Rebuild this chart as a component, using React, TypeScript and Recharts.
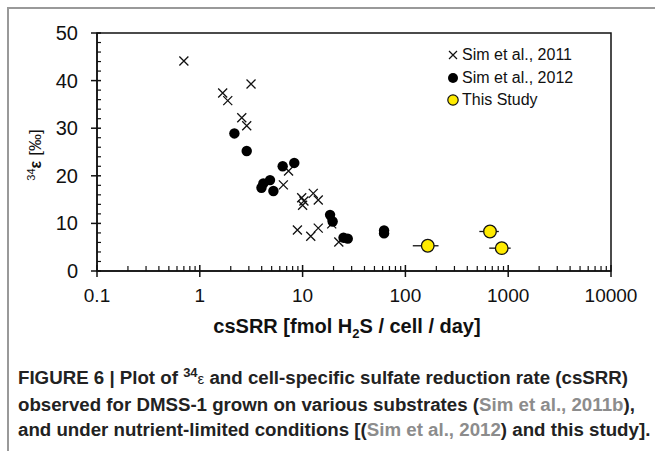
import { ScatterChart, Scatter, XAxis, YAxis, ReferenceArea, ErrorBar, Label, Legend } from 'recharts';

document.body.style.margin = '0';

const FONT = '"Liberation Sans", Arial, Helvetica, sans-serif';
const INK = '#111';

// csSRR [fmol H2S / cell / day] vs 34ε [‰]
const SIM2011_RATE = [0.7, 1.67, 1.87, 2.56, 2.86, 3.15, 6.5, 7.3, 8.9, 9.8, 10.0, 10.3, 12.0, 12.7, 14.2, 14.2, 19.2, 22.5];
const SIM2011_EPS = [44.1, 37.4, 35.8, 32.2, 30.5, 39.3, 18.1, 21.0, 8.6, 15.4, 13.8, 14.7, 7.3, 16.3, 14.9, 9.0, 9.9, 6.1];

const SIM2012_RATE = [2.17, 2.86, 3.98, 4.15, 4.82, 5.2, 6.4, 8.3, 18.5, 19.6, 25, 27.5, 62, 62];
const SIM2012_EPS = [28.9, 25.2, 17.5, 18.4, 19.1, 16.8, 22.0, 22.7, 11.8, 10.4, 7.0, 6.8, 7.9, 8.5];

const STUDY_RATE = [165, 665, 865];
const STUDY_EPS = [5.3, 8.3, 4.8];
const STUDY_ERR_LOW = [47, 141, 211];
const STUDY_ERR_HIGH = [45, 145, 192];

const LEGEND_NAMES = ['Sim et al., 2011', 'Sim et al., 2012', 'This Study'];

// ticks: decades get a label, the 2..9 in between only a short mark
const X_MAJOR = [0.1, 1, 10, 100, 1000, 10000];
const X_TICKS = X_MAJOR.flatMap((d, i) =>
  i === X_MAJOR.length - 1 ? [d] : [1, 2, 3, 4, 5, 6, 7, 8, 9].map((k) => d * k)
);
const Y_MAJOR = [0, 10, 20, 30, 40, 50];
const Y_TICKS = [0, 2, 4, 6, 8, 10, 12, 14, 16, 18, 20, 22, 24, 26, 28, 30, 32, 34, 36, 38, 40, 42, 44, 46, 48, 50];

const sim2011 = SIM2011_RATE.map((x, i) => ({ x, y: SIM2011_EPS[i] }));
const sim2012 = SIM2012_RATE.map((x, i) => ({ x, y: SIM2012_EPS[i] }));
const study = STUDY_RATE.map((x, i) => ({ x, y: STUDY_EPS[i], err: [STUDY_ERR_LOW[i], STUDY_ERR_HIGH[i]] }));

function XTick({ x, y, payload }: any) {
  if (!X_MAJOR.includes(payload.value)) {
    return <line x1={x} x2={x} y1={y} y2={y - 5} stroke={INK} strokeWidth={1.2} />;
  }
  return (
    <g>
      <line x1={x} x2={x} y1={y - 6} y2={y + 6} stroke={INK} strokeWidth={1.5} />
      <text x={x} y={y + 31} textAnchor="middle" fontSize={19} fill={INK} fontFamily={FONT}>
        {payload.value}
      </text>
    </g>
  );
}

function YTick({ x, y, payload }: any) {
  if (!Y_MAJOR.includes(payload.value)) {
    return <line x1={x} x2={x + 4} y1={y} y2={y} stroke={INK} strokeWidth={1.2} />;
  }
  return (
    <g>
      <line x1={x - 6} x2={x + 4} y1={y} y2={y} stroke={INK} strokeWidth={1.5} />
      <text x={x - 19} y={y + 7} textAnchor="end" fontSize={20} fill={INK} fontFamily={FONT}>
        {payload.value}
      </text>
    </g>
  );
}

function XTitle({ viewBox }: any) {
  const cx = viewBox.x + viewBox.width / 2 - 7;
  return (
    <text x={cx} y={viewBox.y + 62} textAnchor="middle" fontSize={20} fontWeight="bold" fill={INK} fontFamily={FONT}>
      csSRR [fmol H<tspan fontSize={13} dy={5}>2</tspan>
      <tspan dy={-5}>S / cell / day]</tspan>
    </text>
  );
}

function YTitle({ viewBox }: any) {
  const cy = viewBox.y + viewBox.height / 2 + 3;
  return (
    <text x={41} y={cy} transform={`rotate(-90 41 ${cy})`} textAnchor="middle" fontSize={16} fill={INK} fontFamily={FONT}>
      <tspan fontSize={11} dy={-6}>34</tspan>
      <tspan fontWeight="bold" fontSize={16} dy={6}>ε</tspan>
      <tspan dx={5} fontSize={17}>[‰]</tspan>
    </text>
  );
}

const Cross = ({ cx, cy }: any) => (
  <path
    d={`M${cx - 4.5},${cy - 4.5}L${cx + 4.5},${cy + 4.5}M${cx - 4.5},${cy + 4.5}L${cx + 4.5},${cy - 4.5}`}
    stroke={INK}
    strokeWidth={1.3}
    fill="none"
  />
);
const Dot = ({ cx, cy }: any) => <circle cx={cx} cy={cy} r={5.2} fill="#000" />;
const YellowDot = ({ cx, cy }: any) => (
  <circle cx={cx} cy={cy} r={6.3} fill="#FFEB00" stroke={INK} strokeWidth={1.3} />
);

function LegendBox() {
  const icons = [
    <path key="x" d="M3,3L11,11M3,11L11,3" stroke={INK} strokeWidth={1.2} />,
    <circle key="d" cx={7} cy={7} r={5} fill="#000" />,
    <circle key="y" cx={7} cy={7} r={5.2} fill="#FFEB00" stroke={INK} strokeWidth={1.2} />,
  ];
  return (
    <div style={{ fontFamily: FONT, fontSize: 16, color: INK, lineHeight: '22.5px' }}>
      {LEGEND_NAMES.map((name, i) => (
        <div key={name} style={{ display: 'flex', alignItems: 'center', whiteSpace: 'nowrap' }}>
          <svg width={14} height={14} style={{ marginRight: 2 }}>
            {icons[i]}
          </svg>
          <span>{name}</span>
        </div>
      ))}
    </div>
  );
}

const link = { color: '#8c8c8c' };

export default function App() {
  return (
    <div style={{ position: 'relative', width: 655, height: 451, overflow: 'hidden', background: '#fff' }}>
      <div
        style={{
          position: 'absolute',
          left: 7,
          top: 7,
          width: 700,
          height: 500,
          borderLeft: '2px solid #999',
          borderTop: '2px solid #999',
        }}
      />
      <div style={{ position: 'absolute', left: 0, top: 0 }}>
        <ScatterChart width={655} height={345} margin={{ top: 33, right: 44, bottom: 0, left: 0 }}>
          <XAxis
            type="number"
            dataKey="x"
            scale="log"
            domain={[0.1, 10000]}
            ticks={X_TICKS}
            interval={0}
            tickSize={0}
            tickMargin={0}
            tickLine={false}
            tick={<XTick />}
            axisLine={{ stroke: INK, strokeWidth: 1.5 }}
            height={74}
          >
            <Label content={<XTitle />} />
          </XAxis>
          <YAxis
            type="number"
            dataKey="y"
            domain={[0, 50]}
            ticks={Y_TICKS}
            interval={0}
            tickSize={0}
            tickMargin={0}
            tickLine={false}
            tick={<YTick />}
            axisLine={{ stroke: INK, strokeWidth: 1.5 }}
            width={97}
          >
            <Label content={<YTitle />} />
          </YAxis>
          <ReferenceArea x1={0.1} x2={10000} y1={0} y2={50} fill="none" stroke={INK} strokeWidth={1.5} />
          <Scatter name={LEGEND_NAMES[0]} data={sim2011} shape={<Cross />} isAnimationActive={false} />
          <Scatter name={LEGEND_NAMES[1]} data={sim2012} shape={<Dot />} isAnimationActive={false} />
          <Scatter name={LEGEND_NAMES[2]} data={study} shape={<YellowDot />} isAnimationActive={false}>
            <ErrorBar dataKey="err" direction="x" width={0} stroke={INK} strokeWidth={1.3} />
          </Scatter>
          <Legend
            layout="horizontal"
            verticalAlign="middle"
            align="center"
            width={200}
            wrapperStyle={{ left: 446, top: 44 }}
            content={<LegendBox />}
          />
        </ScatterChart>
      </div>
      <div
        style={{
          position: 'absolute',
          left: 18,
          top: 365,
          fontFamily: FONT,
          fontWeight: 'bold',
          fontSize: 18.7,
          lineHeight: '25px',
          color: '#222',
          whiteSpace: 'nowrap',
        }}
      >
        FIGURE 6 | Plot of <span style={{ position: 'relative', top: -7, fontSize: 13 }}>34</span>
        <span style={{ fontWeight: 'normal', fontSize: 15 }}>ε</span> and cell-specific sulfate reduction rate (csSRR)
        <br />
        observed for DMSS-1 grown on various substrates (<span style={link}>Sim et al., 2011b</span>),
        <br />
        and under nutrient-limited conditions [(<span style={link}>Sim et al., 2012</span>) and this study].
      </div>
    </div>
  );
}
